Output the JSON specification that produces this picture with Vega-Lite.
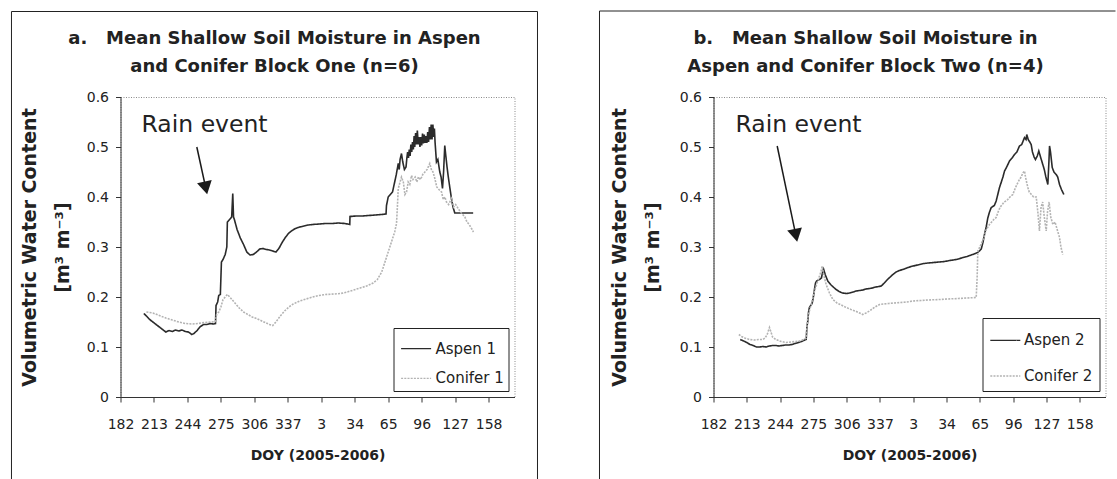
{
  "$schema": "https://vega.github.io/schema/vega-lite/v6.json",
  "padding": {"left": 9.5, "top": 9, "right": 0, "bottom": 0},
  "background": "white",
  "spacing": 59,
  "config": {
    "font": "DejaVu Sans",
    "view": {"stroke": "#8a8a8a", "strokeDash": [1, 1.5], "strokeWidth": 1},
    "axis": {"grid": false, "domainColor": "#333333", "tickColor": "#333333", "labelColor": "#222222", "titleColor": "#222222", "labelFont": "DejaVu Sans", "titleFont": "DejaVu Sans", "labelFontSize": 14, "tickSize": 5, "labelOverlap": false},
    "title": {"font": "DejaVu Sans", "fontSize": 18, "fontWeight": "bold", "color": "#222222", "lineHeight": 28, "anchor": "middle"}
  },
  "resolve": {"scale": {"x": "independent", "y": "independent", "color": "independent", "strokeDash": "independent"}, "legend": {"color": "independent", "strokeDash": "independent"}},
  "datasets": {
    "a": [
      {"series": "Aspen 1", "day": 203.6, "vwc": 0.167},
      {"series": "Aspen 1", "day": 206, "vwc": 0.162},
      {"series": "Aspen 1", "day": 209, "vwc": 0.155},
      {"series": "Aspen 1", "day": 212, "vwc": 0.150},
      {"series": "Aspen 1", "day": 215, "vwc": 0.145},
      {"series": "Aspen 1", "day": 218, "vwc": 0.140},
      {"series": "Aspen 1", "day": 221, "vwc": 0.135},
      {"series": "Aspen 1", "day": 224, "vwc": 0.130},
      {"series": "Aspen 1", "day": 227, "vwc": 0.133},
      {"series": "Aspen 1", "day": 230, "vwc": 0.131},
      {"series": "Aspen 1", "day": 233, "vwc": 0.134},
      {"series": "Aspen 1", "day": 236, "vwc": 0.132},
      {"series": "Aspen 1", "day": 239, "vwc": 0.134},
      {"series": "Aspen 1", "day": 242, "vwc": 0.131},
      {"series": "Aspen 1", "day": 245, "vwc": 0.130},
      {"series": "Aspen 1", "day": 248, "vwc": 0.125},
      {"series": "Aspen 1", "day": 250, "vwc": 0.127},
      {"series": "Aspen 1", "day": 253, "vwc": 0.133},
      {"series": "Aspen 1", "day": 256, "vwc": 0.141},
      {"series": "Aspen 1", "day": 259, "vwc": 0.145},
      {"series": "Aspen 1", "day": 262, "vwc": 0.145},
      {"series": "Aspen 1", "day": 265, "vwc": 0.147},
      {"series": "Aspen 1", "day": 268, "vwc": 0.146},
      {"series": "Aspen 1", "day": 270, "vwc": 0.147},
      {"series": "Aspen 1", "day": 270.5, "vwc": 0.183},
      {"series": "Aspen 1", "day": 272, "vwc": 0.190},
      {"series": "Aspen 1", "day": 273, "vwc": 0.203},
      {"series": "Aspen 1", "day": 274.5, "vwc": 0.205},
      {"series": "Aspen 1", "day": 275.5, "vwc": 0.270},
      {"series": "Aspen 1", "day": 277, "vwc": 0.275},
      {"series": "Aspen 1", "day": 279, "vwc": 0.285},
      {"series": "Aspen 1", "day": 280.5, "vwc": 0.300},
      {"series": "Aspen 1", "day": 281, "vwc": 0.350},
      {"series": "Aspen 1", "day": 283, "vwc": 0.355},
      {"series": "Aspen 1", "day": 285, "vwc": 0.360},
      {"series": "Aspen 1", "day": 286, "vwc": 0.407},
      {"series": "Aspen 1", "day": 286.7, "vwc": 0.360},
      {"series": "Aspen 1", "day": 287.5, "vwc": 0.355},
      {"series": "Aspen 1", "day": 290, "vwc": 0.335},
      {"series": "Aspen 1", "day": 293, "vwc": 0.318},
      {"series": "Aspen 1", "day": 296, "vwc": 0.305},
      {"series": "Aspen 1", "day": 299, "vwc": 0.290},
      {"series": "Aspen 1", "day": 302, "vwc": 0.284},
      {"series": "Aspen 1", "day": 305, "vwc": 0.285},
      {"series": "Aspen 1", "day": 308, "vwc": 0.290},
      {"series": "Aspen 1", "day": 311, "vwc": 0.296},
      {"series": "Aspen 1", "day": 314, "vwc": 0.297},
      {"series": "Aspen 1", "day": 317, "vwc": 0.295},
      {"series": "Aspen 1", "day": 320, "vwc": 0.294},
      {"series": "Aspen 1", "day": 323, "vwc": 0.292},
      {"series": "Aspen 1", "day": 326, "vwc": 0.290},
      {"series": "Aspen 1", "day": 329, "vwc": 0.298},
      {"series": "Aspen 1", "day": 332, "vwc": 0.310},
      {"series": "Aspen 1", "day": 335, "vwc": 0.320},
      {"series": "Aspen 1", "day": 338, "vwc": 0.328},
      {"series": "Aspen 1", "day": 341, "vwc": 0.333},
      {"series": "Aspen 1", "day": 344, "vwc": 0.337},
      {"series": "Aspen 1", "day": 348, "vwc": 0.340},
      {"series": "Aspen 1", "day": 352, "vwc": 0.342},
      {"series": "Aspen 1", "day": 356, "vwc": 0.344},
      {"series": "Aspen 1", "day": 360, "vwc": 0.345},
      {"series": "Aspen 1", "day": 366, "vwc": 0.346},
      {"series": "Aspen 1", "day": 372, "vwc": 0.347},
      {"series": "Aspen 1", "day": 378, "vwc": 0.347},
      {"series": "Aspen 1", "day": 384, "vwc": 0.348},
      {"series": "Aspen 1", "day": 390, "vwc": 0.347},
      {"series": "Aspen 1", "day": 394.4, "vwc": 0.345},
      {"series": "Aspen 1", "day": 394.6, "vwc": 0.361},
      {"series": "Aspen 1", "day": 400, "vwc": 0.362},
      {"series": "Aspen 1", "day": 406, "vwc": 0.362},
      {"series": "Aspen 1", "day": 412, "vwc": 0.363},
      {"series": "Aspen 1", "day": 418, "vwc": 0.364},
      {"series": "Aspen 1", "day": 424, "vwc": 0.365},
      {"series": "Aspen 1", "day": 428, "vwc": 0.366},
      {"series": "Aspen 1", "day": 428.4, "vwc": 0.383},
      {"series": "Aspen 1", "day": 430, "vwc": 0.400},
      {"series": "Aspen 1", "day": 432, "vwc": 0.405},
      {"series": "Aspen 1", "day": 434, "vwc": 0.410},
      {"series": "Aspen 1", "day": 436, "vwc": 0.430},
      {"series": "Aspen 1", "day": 437.5, "vwc": 0.445},
      {"series": "Aspen 1", "day": 439.3, "vwc": 0.467},
      {"series": "Aspen 1", "day": 440.2, "vwc": 0.455},
      {"series": "Aspen 1", "day": 441, "vwc": 0.475},
      {"series": "Aspen 1", "day": 442.3, "vwc": 0.487},
      {"series": "Aspen 1", "day": 443.5, "vwc": 0.470},
      {"series": "Aspen 1", "day": 445, "vwc": 0.455},
      {"series": "Aspen 1", "day": 446.5, "vwc": 0.460},
      {"series": "Aspen 1", "day": 447.3, "vwc": 0.478},
      {"series": "Aspen 1", "day": 448, "vwc": 0.490},
      {"series": "Aspen 1", "day": 448.8, "vwc": 0.478},
      {"series": "Aspen 1", "day": 449.5, "vwc": 0.495},
      {"series": "Aspen 1", "day": 450.3, "vwc": 0.482},
      {"series": "Aspen 1", "day": 451, "vwc": 0.505},
      {"series": "Aspen 1", "day": 451.8, "vwc": 0.49},
      {"series": "Aspen 1", "day": 452.5, "vwc": 0.51},
      {"series": "Aspen 1", "day": 453.3, "vwc": 0.495},
      {"series": "Aspen 1", "day": 454, "vwc": 0.522},
      {"series": "Aspen 1", "day": 454.6, "vwc": 0.50},
      {"series": "Aspen 1", "day": 455.4, "vwc": 0.528},
      {"series": "Aspen 1", "day": 456.2, "vwc": 0.505},
      {"series": "Aspen 1", "day": 457, "vwc": 0.533},
      {"series": "Aspen 1", "day": 457.8, "vwc": 0.505},
      {"series": "Aspen 1", "day": 458.6, "vwc": 0.52},
      {"series": "Aspen 1", "day": 459.4, "vwc": 0.50},
      {"series": "Aspen 1", "day": 460.2, "vwc": 0.52},
      {"series": "Aspen 1", "day": 461, "vwc": 0.503},
      {"series": "Aspen 1", "day": 461.8, "vwc": 0.527},
      {"series": "Aspen 1", "day": 462.6, "vwc": 0.507},
      {"series": "Aspen 1", "day": 463.4, "vwc": 0.525},
      {"series": "Aspen 1", "day": 464.2, "vwc": 0.508},
      {"series": "Aspen 1", "day": 465, "vwc": 0.522},
      {"series": "Aspen 1", "day": 465.8, "vwc": 0.508},
      {"series": "Aspen 1", "day": 466.6, "vwc": 0.53},
      {"series": "Aspen 1", "day": 467.4, "vwc": 0.51},
      {"series": "Aspen 1", "day": 468.2, "vwc": 0.54},
      {"series": "Aspen 1", "day": 469, "vwc": 0.515},
      {"series": "Aspen 1", "day": 469.8, "vwc": 0.545},
      {"series": "Aspen 1", "day": 470.6, "vwc": 0.515},
      {"series": "Aspen 1", "day": 471.4, "vwc": 0.545},
      {"series": "Aspen 1", "day": 472.2, "vwc": 0.52},
      {"series": "Aspen 1", "day": 472.8, "vwc": 0.537},
      {"series": "Aspen 1", "day": 473.4, "vwc": 0.51},
      {"series": "Aspen 1", "day": 474.7, "vwc": 0.470},
      {"series": "Aspen 1", "day": 476, "vwc": 0.475},
      {"series": "Aspen 1", "day": 477.8, "vwc": 0.450},
      {"series": "Aspen 1", "day": 479, "vwc": 0.440},
      {"series": "Aspen 1", "day": 480.3, "vwc": 0.417},
      {"series": "Aspen 1", "day": 481.3, "vwc": 0.450},
      {"series": "Aspen 1", "day": 482.4, "vwc": 0.503},
      {"series": "Aspen 1", "day": 483.5, "vwc": 0.480},
      {"series": "Aspen 1", "day": 484.5, "vwc": 0.460},
      {"series": "Aspen 1", "day": 485.5, "vwc": 0.443},
      {"series": "Aspen 1", "day": 487, "vwc": 0.420},
      {"series": "Aspen 1", "day": 488.6, "vwc": 0.397},
      {"series": "Aspen 1", "day": 490, "vwc": 0.380},
      {"series": "Aspen 1", "day": 491.7, "vwc": 0.368},
      {"series": "Aspen 1", "day": 495, "vwc": 0.368},
      {"series": "Aspen 1", "day": 500, "vwc": 0.368},
      {"series": "Aspen 1", "day": 505, "vwc": 0.368},
      {"series": "Aspen 1", "day": 508.7, "vwc": 0.368},
      {"series": "Conifer 1", "day": 206, "vwc": 0.170},
      {"series": "Conifer 1", "day": 212, "vwc": 0.168},
      {"series": "Conifer 1", "day": 218, "vwc": 0.163},
      {"series": "Conifer 1", "day": 224, "vwc": 0.158},
      {"series": "Conifer 1", "day": 230, "vwc": 0.154},
      {"series": "Conifer 1", "day": 236, "vwc": 0.150},
      {"series": "Conifer 1", "day": 242, "vwc": 0.147},
      {"series": "Conifer 1", "day": 248, "vwc": 0.146},
      {"series": "Conifer 1", "day": 254, "vwc": 0.147},
      {"series": "Conifer 1", "day": 260, "vwc": 0.149},
      {"series": "Conifer 1", "day": 266, "vwc": 0.150},
      {"series": "Conifer 1", "day": 270, "vwc": 0.151},
      {"series": "Conifer 1", "day": 271, "vwc": 0.165},
      {"series": "Conifer 1", "day": 273, "vwc": 0.170},
      {"series": "Conifer 1", "day": 275, "vwc": 0.180},
      {"series": "Conifer 1", "day": 277, "vwc": 0.195},
      {"series": "Conifer 1", "day": 279, "vwc": 0.200},
      {"series": "Conifer 1", "day": 281, "vwc": 0.205},
      {"series": "Conifer 1", "day": 284, "vwc": 0.198},
      {"series": "Conifer 1", "day": 288, "vwc": 0.188},
      {"series": "Conifer 1", "day": 292, "vwc": 0.178},
      {"series": "Conifer 1", "day": 296, "vwc": 0.170},
      {"series": "Conifer 1", "day": 300, "vwc": 0.165},
      {"series": "Conifer 1", "day": 304, "vwc": 0.160},
      {"series": "Conifer 1", "day": 308, "vwc": 0.157},
      {"series": "Conifer 1", "day": 312, "vwc": 0.153},
      {"series": "Conifer 1", "day": 316, "vwc": 0.149},
      {"series": "Conifer 1", "day": 320, "vwc": 0.145},
      {"series": "Conifer 1", "day": 323, "vwc": 0.143},
      {"series": "Conifer 1", "day": 326, "vwc": 0.150},
      {"series": "Conifer 1", "day": 330, "vwc": 0.162},
      {"series": "Conifer 1", "day": 334, "vwc": 0.172},
      {"series": "Conifer 1", "day": 338, "vwc": 0.180},
      {"series": "Conifer 1", "day": 342, "vwc": 0.186},
      {"series": "Conifer 1", "day": 348, "vwc": 0.192},
      {"series": "Conifer 1", "day": 354, "vwc": 0.196},
      {"series": "Conifer 1", "day": 360, "vwc": 0.200},
      {"series": "Conifer 1", "day": 366, "vwc": 0.203},
      {"series": "Conifer 1", "day": 372, "vwc": 0.205},
      {"series": "Conifer 1", "day": 380, "vwc": 0.206},
      {"series": "Conifer 1", "day": 386, "vwc": 0.207},
      {"series": "Conifer 1", "day": 392, "vwc": 0.210},
      {"series": "Conifer 1", "day": 398, "vwc": 0.214},
      {"series": "Conifer 1", "day": 404, "vwc": 0.218},
      {"series": "Conifer 1", "day": 410, "vwc": 0.222},
      {"series": "Conifer 1", "day": 416, "vwc": 0.228},
      {"series": "Conifer 1", "day": 420, "vwc": 0.235},
      {"series": "Conifer 1", "day": 424, "vwc": 0.250},
      {"series": "Conifer 1", "day": 427, "vwc": 0.270},
      {"series": "Conifer 1", "day": 430, "vwc": 0.290},
      {"series": "Conifer 1", "day": 433, "vwc": 0.310},
      {"series": "Conifer 1", "day": 436, "vwc": 0.330},
      {"series": "Conifer 1", "day": 437.7, "vwc": 0.347},
      {"series": "Conifer 1", "day": 438.5, "vwc": 0.380},
      {"series": "Conifer 1", "day": 439.3, "vwc": 0.417},
      {"series": "Conifer 1", "day": 441, "vwc": 0.430},
      {"series": "Conifer 1", "day": 442.3, "vwc": 0.440},
      {"series": "Conifer 1", "day": 444, "vwc": 0.430},
      {"series": "Conifer 1", "day": 445.5, "vwc": 0.405},
      {"series": "Conifer 1", "day": 447, "vwc": 0.410},
      {"series": "Conifer 1", "day": 448.5, "vwc": 0.430},
      {"series": "Conifer 1", "day": 450, "vwc": 0.425},
      {"series": "Conifer 1", "day": 451.6, "vwc": 0.443},
      {"series": "Conifer 1", "day": 453, "vwc": 0.435},
      {"series": "Conifer 1", "day": 455, "vwc": 0.440},
      {"series": "Conifer 1", "day": 456.5, "vwc": 0.430},
      {"series": "Conifer 1", "day": 458, "vwc": 0.440},
      {"series": "Conifer 1", "day": 460, "vwc": 0.435},
      {"series": "Conifer 1", "day": 462, "vwc": 0.445},
      {"series": "Conifer 1", "day": 464, "vwc": 0.450},
      {"series": "Conifer 1", "day": 466, "vwc": 0.455},
      {"series": "Conifer 1", "day": 468.5, "vwc": 0.467},
      {"series": "Conifer 1", "day": 470, "vwc": 0.455},
      {"series": "Conifer 1", "day": 471.5, "vwc": 0.450},
      {"series": "Conifer 1", "day": 473.2, "vwc": 0.437},
      {"series": "Conifer 1", "day": 475, "vwc": 0.420},
      {"series": "Conifer 1", "day": 477, "vwc": 0.415},
      {"series": "Conifer 1", "day": 479.4, "vwc": 0.410},
      {"series": "Conifer 1", "day": 481, "vwc": 0.395},
      {"series": "Conifer 1", "day": 482.5, "vwc": 0.400},
      {"series": "Conifer 1", "day": 484, "vwc": 0.390},
      {"series": "Conifer 1", "day": 486, "vwc": 0.385},
      {"series": "Conifer 1", "day": 488.6, "vwc": 0.397},
      {"series": "Conifer 1", "day": 490.5, "vwc": 0.380},
      {"series": "Conifer 1", "day": 492.5, "vwc": 0.385},
      {"series": "Conifer 1", "day": 494.8, "vwc": 0.377},
      {"series": "Conifer 1", "day": 497, "vwc": 0.370},
      {"series": "Conifer 1", "day": 499, "vwc": 0.365},
      {"series": "Conifer 1", "day": 501, "vwc": 0.360},
      {"series": "Conifer 1", "day": 503, "vwc": 0.350},
      {"series": "Conifer 1", "day": 505, "vwc": 0.345},
      {"series": "Conifer 1", "day": 507.2, "vwc": 0.337},
      {"series": "Conifer 1", "day": 509, "vwc": 0.330}
    ],
    "b": [
      {"series": "Aspen 2", "day": 206.9, "vwc": 0.115},
      {"series": "Aspen 2", "day": 210, "vwc": 0.112},
      {"series": "Aspen 2", "day": 213, "vwc": 0.109},
      {"series": "Aspen 2", "day": 216, "vwc": 0.105},
      {"series": "Aspen 2", "day": 219, "vwc": 0.103},
      {"series": "Aspen 2", "day": 222, "vwc": 0.100},
      {"series": "Aspen 2", "day": 225, "vwc": 0.100},
      {"series": "Aspen 2", "day": 228, "vwc": 0.101},
      {"series": "Aspen 2", "day": 231, "vwc": 0.100},
      {"series": "Aspen 2", "day": 234, "vwc": 0.102},
      {"series": "Aspen 2", "day": 237, "vwc": 0.103},
      {"series": "Aspen 2", "day": 240, "vwc": 0.103},
      {"series": "Aspen 2", "day": 243, "vwc": 0.102},
      {"series": "Aspen 2", "day": 246, "vwc": 0.103},
      {"series": "Aspen 2", "day": 249, "vwc": 0.104},
      {"series": "Aspen 2", "day": 252, "vwc": 0.104},
      {"series": "Aspen 2", "day": 255, "vwc": 0.105},
      {"series": "Aspen 2", "day": 258, "vwc": 0.107},
      {"series": "Aspen 2", "day": 261, "vwc": 0.109},
      {"series": "Aspen 2", "day": 264, "vwc": 0.111},
      {"series": "Aspen 2", "day": 267, "vwc": 0.114},
      {"series": "Aspen 2", "day": 268.3, "vwc": 0.115},
      {"series": "Aspen 2", "day": 269, "vwc": 0.140},
      {"series": "Aspen 2", "day": 269.8, "vwc": 0.152},
      {"series": "Aspen 2", "day": 270.5, "vwc": 0.170},
      {"series": "Aspen 2", "day": 271.3, "vwc": 0.179},
      {"series": "Aspen 2", "day": 272.5, "vwc": 0.183},
      {"series": "Aspen 2", "day": 273.8, "vwc": 0.187},
      {"series": "Aspen 2", "day": 275, "vwc": 0.200},
      {"series": "Aspen 2", "day": 276, "vwc": 0.215},
      {"series": "Aspen 2", "day": 277, "vwc": 0.228},
      {"series": "Aspen 2", "day": 278, "vwc": 0.232},
      {"series": "Aspen 2", "day": 280.7, "vwc": 0.235},
      {"series": "Aspen 2", "day": 282.5, "vwc": 0.238},
      {"series": "Aspen 2", "day": 283.8, "vwc": 0.252},
      {"series": "Aspen 2", "day": 284.5, "vwc": 0.256},
      {"series": "Aspen 2", "day": 286, "vwc": 0.245},
      {"series": "Aspen 2", "day": 288.4, "vwc": 0.232},
      {"series": "Aspen 2", "day": 291, "vwc": 0.225},
      {"series": "Aspen 2", "day": 293.5, "vwc": 0.220},
      {"series": "Aspen 2", "day": 296.2, "vwc": 0.215},
      {"series": "Aspen 2", "day": 299, "vwc": 0.211},
      {"series": "Aspen 2", "day": 302, "vwc": 0.208},
      {"series": "Aspen 2", "day": 305.6, "vwc": 0.207},
      {"series": "Aspen 2", "day": 309, "vwc": 0.208},
      {"series": "Aspen 2", "day": 312, "vwc": 0.210},
      {"series": "Aspen 2", "day": 315, "vwc": 0.212},
      {"series": "Aspen 2", "day": 318, "vwc": 0.213},
      {"series": "Aspen 2", "day": 321, "vwc": 0.214},
      {"series": "Aspen 2", "day": 324, "vwc": 0.216},
      {"series": "Aspen 2", "day": 327.3, "vwc": 0.217},
      {"series": "Aspen 2", "day": 330, "vwc": 0.218},
      {"series": "Aspen 2", "day": 333, "vwc": 0.220},
      {"series": "Aspen 2", "day": 336, "vwc": 0.221},
      {"series": "Aspen 2", "day": 338.2, "vwc": 0.222},
      {"series": "Aspen 2", "day": 341, "vwc": 0.228},
      {"series": "Aspen 2", "day": 344, "vwc": 0.235},
      {"series": "Aspen 2", "day": 347, "vwc": 0.241},
      {"series": "Aspen 2", "day": 349, "vwc": 0.245},
      {"series": "Aspen 2", "day": 352, "vwc": 0.250},
      {"series": "Aspen 2", "day": 355, "vwc": 0.253},
      {"series": "Aspen 2", "day": 358.3, "vwc": 0.255},
      {"series": "Aspen 2", "day": 362, "vwc": 0.258},
      {"series": "Aspen 2", "day": 366, "vwc": 0.261},
      {"series": "Aspen 2", "day": 370, "vwc": 0.263},
      {"series": "Aspen 2", "day": 373.8, "vwc": 0.265},
      {"series": "Aspen 2", "day": 378, "vwc": 0.267},
      {"series": "Aspen 2", "day": 382, "vwc": 0.268},
      {"series": "Aspen 2", "day": 387, "vwc": 0.269},
      {"series": "Aspen 2", "day": 392.4, "vwc": 0.270},
      {"series": "Aspen 2", "day": 397, "vwc": 0.271},
      {"series": "Aspen 2", "day": 402, "vwc": 0.273},
      {"series": "Aspen 2", "day": 408, "vwc": 0.275},
      {"series": "Aspen 2", "day": 413, "vwc": 0.278},
      {"series": "Aspen 2", "day": 418, "vwc": 0.281},
      {"series": "Aspen 2", "day": 423.4, "vwc": 0.285},
      {"series": "Aspen 2", "day": 427, "vwc": 0.288},
      {"series": "Aspen 2", "day": 429.7, "vwc": 0.292},
      {"series": "Aspen 2", "day": 431.3, "vwc": 0.296},
      {"series": "Aspen 2", "day": 433, "vwc": 0.310},
      {"series": "Aspen 2", "day": 434.3, "vwc": 0.325},
      {"series": "Aspen 2", "day": 435.9, "vwc": 0.340},
      {"series": "Aspen 2", "day": 437.4, "vwc": 0.358},
      {"series": "Aspen 2", "day": 439, "vwc": 0.370},
      {"series": "Aspen 2", "day": 440.6, "vwc": 0.379},
      {"series": "Aspen 2", "day": 442, "vwc": 0.381},
      {"series": "Aspen 2", "day": 443.5, "vwc": 0.383},
      {"series": "Aspen 2", "day": 445.2, "vwc": 0.392},
      {"series": "Aspen 2", "day": 446.7, "vwc": 0.405},
      {"series": "Aspen 2", "day": 448.3, "vwc": 0.419},
      {"series": "Aspen 2", "day": 450, "vwc": 0.430},
      {"series": "Aspen 2", "day": 451.5, "vwc": 0.440},
      {"series": "Aspen 2", "day": 453, "vwc": 0.452},
      {"series": "Aspen 2", "day": 455, "vwc": 0.460},
      {"series": "Aspen 2", "day": 457.6, "vwc": 0.472},
      {"series": "Aspen 2", "day": 460, "vwc": 0.478},
      {"series": "Aspen 2", "day": 462.3, "vwc": 0.485},
      {"series": "Aspen 2", "day": 464.5, "vwc": 0.490},
      {"series": "Aspen 2", "day": 466.9, "vwc": 0.502},
      {"series": "Aspen 2", "day": 469, "vwc": 0.505},
      {"series": "Aspen 2", "day": 471.6, "vwc": 0.519},
      {"series": "Aspen 2", "day": 473, "vwc": 0.515},
      {"series": "Aspen 2", "day": 473.7, "vwc": 0.525},
      {"series": "Aspen 2", "day": 475, "vwc": 0.515},
      {"series": "Aspen 2", "day": 476.5, "vwc": 0.510},
      {"series": "Aspen 2", "day": 477.8, "vwc": 0.505},
      {"series": "Aspen 2", "day": 479, "vwc": 0.490},
      {"series": "Aspen 2", "day": 480.5, "vwc": 0.480},
      {"series": "Aspen 2", "day": 481.8, "vwc": 0.475},
      {"series": "Aspen 2", "day": 483.5, "vwc": 0.482},
      {"series": "Aspen 2", "day": 484.9, "vwc": 0.492},
      {"series": "Aspen 2", "day": 486.5, "vwc": 0.480},
      {"series": "Aspen 2", "day": 488.6, "vwc": 0.465},
      {"series": "Aspen 2", "day": 490, "vwc": 0.455},
      {"series": "Aspen 2", "day": 491.5, "vwc": 0.440},
      {"series": "Aspen 2", "day": 493.3, "vwc": 0.425},
      {"series": "Aspen 2", "day": 494.3, "vwc": 0.470},
      {"series": "Aspen 2", "day": 494.9, "vwc": 0.502},
      {"series": "Aspen 2", "day": 495.8, "vwc": 0.490},
      {"series": "Aspen 2", "day": 497.4, "vwc": 0.459},
      {"series": "Aspen 2", "day": 499, "vwc": 0.450},
      {"series": "Aspen 2", "day": 501.1, "vwc": 0.445},
      {"series": "Aspen 2", "day": 502.5, "vwc": 0.440},
      {"series": "Aspen 2", "day": 504.2, "vwc": 0.425},
      {"series": "Aspen 2", "day": 506, "vwc": 0.415},
      {"series": "Aspen 2", "day": 508.2, "vwc": 0.405},
      {"series": "Conifer 2", "day": 205.6, "vwc": 0.125},
      {"series": "Conifer 2", "day": 208, "vwc": 0.121},
      {"series": "Conifer 2", "day": 211, "vwc": 0.118},
      {"series": "Conifer 2", "day": 215.5, "vwc": 0.115},
      {"series": "Conifer 2", "day": 220, "vwc": 0.114},
      {"series": "Conifer 2", "day": 224, "vwc": 0.115},
      {"series": "Conifer 2", "day": 227.9, "vwc": 0.115},
      {"series": "Conifer 2", "day": 230, "vwc": 0.118},
      {"series": "Conifer 2", "day": 232, "vwc": 0.125},
      {"series": "Conifer 2", "day": 234.1, "vwc": 0.139},
      {"series": "Conifer 2", "day": 235.5, "vwc": 0.130},
      {"series": "Conifer 2", "day": 237, "vwc": 0.120},
      {"series": "Conifer 2", "day": 240, "vwc": 0.115},
      {"series": "Conifer 2", "day": 245, "vwc": 0.111},
      {"series": "Conifer 2", "day": 249.7, "vwc": 0.109},
      {"series": "Conifer 2", "day": 254, "vwc": 0.110},
      {"series": "Conifer 2", "day": 258, "vwc": 0.111},
      {"series": "Conifer 2", "day": 262.1, "vwc": 0.112},
      {"series": "Conifer 2", "day": 266, "vwc": 0.115},
      {"series": "Conifer 2", "day": 268.3, "vwc": 0.118},
      {"series": "Conifer 2", "day": 269, "vwc": 0.140},
      {"series": "Conifer 2", "day": 269.8, "vwc": 0.159},
      {"series": "Conifer 2", "day": 271, "vwc": 0.170},
      {"series": "Conifer 2", "day": 273, "vwc": 0.185},
      {"series": "Conifer 2", "day": 274.5, "vwc": 0.198},
      {"series": "Conifer 2", "day": 276, "vwc": 0.212},
      {"series": "Conifer 2", "day": 278, "vwc": 0.225},
      {"series": "Conifer 2", "day": 280.7, "vwc": 0.242},
      {"series": "Conifer 2", "day": 282, "vwc": 0.250},
      {"series": "Conifer 2", "day": 283.2, "vwc": 0.262},
      {"series": "Conifer 2", "day": 284.5, "vwc": 0.245},
      {"series": "Conifer 2", "day": 286.9, "vwc": 0.225},
      {"series": "Conifer 2", "day": 290, "vwc": 0.208},
      {"series": "Conifer 2", "day": 293.1, "vwc": 0.195},
      {"series": "Conifer 2", "day": 297, "vwc": 0.188},
      {"series": "Conifer 2", "day": 301, "vwc": 0.184},
      {"series": "Conifer 2", "day": 305.6, "vwc": 0.179},
      {"series": "Conifer 2", "day": 310, "vwc": 0.175},
      {"series": "Conifer 2", "day": 315, "vwc": 0.171},
      {"series": "Conifer 2", "day": 318, "vwc": 0.168},
      {"series": "Conifer 2", "day": 321, "vwc": 0.165},
      {"series": "Conifer 2", "day": 324, "vwc": 0.168},
      {"series": "Conifer 2", "day": 327.3, "vwc": 0.172},
      {"series": "Conifer 2", "day": 331, "vwc": 0.178},
      {"series": "Conifer 2", "day": 334, "vwc": 0.182},
      {"series": "Conifer 2", "day": 336.6, "vwc": 0.185},
      {"series": "Conifer 2", "day": 340, "vwc": 0.186},
      {"series": "Conifer 2", "day": 345, "vwc": 0.187},
      {"series": "Conifer 2", "day": 350, "vwc": 0.188},
      {"series": "Conifer 2", "day": 356, "vwc": 0.189},
      {"series": "Conifer 2", "day": 362, "vwc": 0.190},
      {"series": "Conifer 2", "day": 367.6, "vwc": 0.192},
      {"series": "Conifer 2", "day": 375, "vwc": 0.193},
      {"series": "Conifer 2", "day": 382, "vwc": 0.194},
      {"series": "Conifer 2", "day": 392.4, "vwc": 0.195},
      {"series": "Conifer 2", "day": 400, "vwc": 0.196},
      {"series": "Conifer 2", "day": 410, "vwc": 0.197},
      {"series": "Conifer 2", "day": 418, "vwc": 0.198},
      {"series": "Conifer 2", "day": 426.6, "vwc": 0.199},
      {"series": "Conifer 2", "day": 427.5, "vwc": 0.240},
      {"series": "Conifer 2", "day": 428.1, "vwc": 0.292},
      {"series": "Conifer 2", "day": 430, "vwc": 0.300},
      {"series": "Conifer 2", "day": 432, "vwc": 0.310},
      {"series": "Conifer 2", "day": 434, "vwc": 0.320},
      {"series": "Conifer 2", "day": 436, "vwc": 0.335},
      {"series": "Conifer 2", "day": 439, "vwc": 0.345},
      {"series": "Conifer 2", "day": 441, "vwc": 0.350},
      {"series": "Conifer 2", "day": 443, "vwc": 0.355},
      {"series": "Conifer 2", "day": 445.2, "vwc": 0.359},
      {"series": "Conifer 2", "day": 447, "vwc": 0.370},
      {"series": "Conifer 2", "day": 449, "vwc": 0.380},
      {"series": "Conifer 2", "day": 451, "vwc": 0.385},
      {"series": "Conifer 2", "day": 452.5, "vwc": 0.390},
      {"series": "Conifer 2", "day": 454.5, "vwc": 0.392},
      {"series": "Conifer 2", "day": 456, "vwc": 0.395},
      {"series": "Conifer 2", "day": 458, "vwc": 0.400},
      {"series": "Conifer 2", "day": 460.7, "vwc": 0.405},
      {"series": "Conifer 2", "day": 462.5, "vwc": 0.415},
      {"series": "Conifer 2", "day": 464.5, "vwc": 0.425},
      {"series": "Conifer 2", "day": 466.9, "vwc": 0.435},
      {"series": "Conifer 2", "day": 468.5, "vwc": 0.440},
      {"series": "Conifer 2", "day": 470, "vwc": 0.448},
      {"series": "Conifer 2", "day": 471.6, "vwc": 0.452},
      {"series": "Conifer 2", "day": 472.5, "vwc": 0.440},
      {"series": "Conifer 2", "day": 473.5, "vwc": 0.430},
      {"series": "Conifer 2", "day": 474.7, "vwc": 0.419},
      {"series": "Conifer 2", "day": 476, "vwc": 0.410},
      {"series": "Conifer 2", "day": 478, "vwc": 0.405},
      {"series": "Conifer 2", "day": 480, "vwc": 0.400},
      {"series": "Conifer 2", "day": 482.5, "vwc": 0.400},
      {"series": "Conifer 2", "day": 484, "vwc": 0.370},
      {"series": "Conifer 2", "day": 485.5, "vwc": 0.332},
      {"series": "Conifer 2", "day": 487, "vwc": 0.380},
      {"series": "Conifer 2", "day": 488.5, "vwc": 0.390},
      {"series": "Conifer 2", "day": 490, "vwc": 0.360},
      {"series": "Conifer 2", "day": 491.8, "vwc": 0.332},
      {"series": "Conifer 2", "day": 493, "vwc": 0.370},
      {"series": "Conifer 2", "day": 494.5, "vwc": 0.390},
      {"series": "Conifer 2", "day": 496, "vwc": 0.360},
      {"series": "Conifer 2", "day": 498, "vwc": 0.345},
      {"series": "Conifer 2", "day": 500, "vwc": 0.350},
      {"series": "Conifer 2", "day": 502, "vwc": 0.335},
      {"series": "Conifer 2", "day": 504.2, "vwc": 0.319},
      {"series": "Conifer 2", "day": 505.5, "vwc": 0.300},
      {"series": "Conifer 2", "day": 507.2, "vwc": 0.285}
    ]
  },
  "hconcat": [
    {
      "width": 394,
      "height": 300,
      "title": {"text": ["a.\u00a0\u00a0\u00a0Mean Shallow Soil Moisture in Aspen", "and Conifer Block One (n=6)"], "dx": -43, "offset": -65},
      "layer": [
        {
          "data": {"name": "a"},
          "mark": {"type": "line", "strokeWidth": 1.6},
          "encoding": {
            "x": {"field": "day", "type": "quantitative", "scale": {"domain": [182, 547], "nice": false, "zero": false},
              "axis": {"values": [182, 213, 244, 275, 306, 337, 368, 399, 430, 461, 492, 523], "tickCount": 30, "labelExpr": "datum.value > 365 ? datum.value - 365 : datum.value", "title": "DOY (2005-2006)", "titleFontSize": 14, "titleFontWeight": "bold", "labelPadding": 15, "titlePadding": 17, "labelFlush": false, "labelOverlap": false}},
            "y": {"field": "vwc", "type": "quantitative", "scale": {"domain": [0, 0.6], "nice": false},
              "axis": {"values": [0, 0.1, 0.2, 0.3, 0.4, 0.5, 0.6], "tickCount": 20, "format": "~g", "title": ["Volumetric Water Content", "[m³ m⁻³]"], "titleFontSize": 19, "titleFontWeight": "bold", "titleLineHeight": 33, "titlePadding": 14, "labelPadding": 7}},
            "color": {"field": "series", "type": "nominal", "scale": {"domain": ["Aspen 1", "Conifer 1"], "range": ["#2b2b2b", "#b3b3b3"]},
              "legend": {"title": null, "orient": "bottom-right", "offset": 6.5, "padding": 4.6, "strokeColor": "#222222", "fillColor": "#ffffff", "symbolType": "stroke", "symbolSize": 900, "symbolStrokeWidth": 1.3, "symbolOffset": 2, "labelFont": "DejaVu Sans", "labelFontSize": 15, "labelColor": "#222222", "labelOffset": 3.4, "rowPadding": 5.7}},
            "strokeDash": {"field": "series", "type": "nominal", "scale": {"domain": ["Aspen 1", "Conifer 1"], "range": [[1, 0], [2, 1.2]]},
              "legend": {"title": null, "orient": "bottom-right", "offset": 6.5, "padding": 4.6, "strokeColor": "#222222", "fillColor": "#ffffff", "symbolType": "stroke", "symbolSize": 900, "symbolStrokeWidth": 1.3, "symbolOffset": 2, "labelFont": "DejaVu Sans", "labelFontSize": 15, "labelColor": "#222222", "labelOffset": 3.4, "rowPadding": 5.7}}
          }
        },
        {
          "data": {"values": [{}]},
          "mark": {"type": "rule", "color": "#1a1a1a", "strokeWidth": 1.5},
          "encoding": {"x": {"datum": 252.7}, "y": {"datum": 0.5}, "x2": {"datum": 261.0}, "y2": {"datum": 0.418}}
        },
        {
          "data": {"values": [{}]},
          "mark": {"type": "point", "shape": "triangle-down", "filled": true, "size": 225, "angle": -12.4, "color": "#1a1a1a", "opacity": 1},
          "encoding": {"x": {"datum": 261.0}, "y": {"datum": 0.418}}
        },
        {
          "data": {"values": [{}]},
          "mark": {"type": "text", "text": "Rain event", "align": "left", "baseline": "alphabetic", "font": "DejaVu Sans", "fontSize": 23.5, "color": "#222222"},
          "encoding": {"x": {"datum": 201.5}, "y": {"datum": 0.531}}
        },
        {
          "data": {"values": [{}]},
          "mark": {"type": "rule", "color": "#222222", "strokeWidth": 1},
          "encoding": {"x": {"datum": 81.0}, "y": {"datum": -0.166}, "y2": {"datum": 0.771}}
        },
        {
          "data": {"values": [{}]},
          "mark": {"type": "rule", "color": "#222222", "strokeWidth": 1},
          "encoding": {"x": {"datum": 81.0}, "x2": {"datum": 568.3}, "y": {"datum": 0.771}}
        },
        {
          "data": {"values": [{}]},
          "mark": {"type": "rule", "color": "#222222", "strokeWidth": 1},
          "encoding": {"x": {"datum": 568.3}, "y": {"datum": -0.166}, "y2": {"datum": 0.771}}
        }
      ]
    },
    {
      "width": 392,
      "height": 300,
      "title": {"text": ["b.\u00a0\u00a0\u00a0Mean Shallow Soil Moisture in", "Aspen and Conifer Block Two (n=4)"], "dx": -44, "offset": -65},
      "layer": [
        {
          "data": {"name": "b"},
          "mark": {"type": "line", "strokeWidth": 1.6},
          "encoding": {
            "x": {"field": "day", "type": "quantitative", "scale": {"domain": [182, 547], "nice": false, "zero": false},
              "axis": {"values": [182, 213, 244, 275, 306, 337, 368, 399, 430, 461, 492, 523], "tickCount": 30, "labelExpr": "datum.value > 365 ? datum.value - 365 : datum.value", "title": "DOY (2005-2006)", "titleFontSize": 14, "titleFontWeight": "bold", "labelPadding": 15, "titlePadding": 17, "labelFlush": false, "labelOverlap": false}},
            "y": {"field": "vwc", "type": "quantitative", "scale": {"domain": [0, 0.6], "nice": false},
              "axis": {"values": [0, 0.1, 0.2, 0.3, 0.4, 0.5, 0.6], "tickCount": 20, "format": "~g", "title": ["Volumetric Water Content", "[m³ m⁻³]"], "titleFontSize": 19, "titleFontWeight": "bold", "titleLineHeight": 33, "titlePadding": 17, "labelPadding": 7}},
            "color": {"field": "series", "type": "nominal", "scale": {"domain": ["Aspen 2", "Conifer 2"], "range": ["#2b2b2b", "#b3b3b3"]},
              "legend": {"title": null, "orient": "bottom-right", "offset": 6, "padding": 6.3, "strokeColor": "#222222", "fillColor": "#ffffff", "symbolType": "stroke", "symbolSize": 900, "symbolStrokeWidth": 1.3, "symbolOffset": 0.5, "labelFont": "DejaVu Sans", "labelFontSize": 15, "labelColor": "#222222", "labelOffset": 2.6, "rowPadding": 11.7}},
            "strokeDash": {"field": "series", "type": "nominal", "scale": {"domain": ["Aspen 2", "Conifer 2"], "range": [[1, 0], [2, 1.2]]},
              "legend": {"title": null, "orient": "bottom-right", "offset": 6, "padding": 6.3, "strokeColor": "#222222", "fillColor": "#ffffff", "symbolType": "stroke", "symbolSize": 900, "symbolStrokeWidth": 1.3, "symbolOffset": 0.5, "labelFont": "DejaVu Sans", "labelFontSize": 15, "labelColor": "#222222", "labelOffset": 2.6, "rowPadding": 11.7}}
          }
        },
        {
          "data": {"values": [{}]},
          "mark": {"type": "rule", "color": "#1a1a1a", "strokeWidth": 1.5},
          "encoding": {"x": {"datum": 241.3}, "y": {"datum": 0.502}, "x2": {"datum": 258.7}, "y2": {"datum": 0.3234}}
        },
        {
          "data": {"values": [{}]},
          "mark": {"type": "point", "shape": "triangle-down", "filled": true, "size": 225, "angle": -11.8, "color": "#1a1a1a", "opacity": 1},
          "encoding": {"x": {"datum": 258.7}, "y": {"datum": 0.3234}}
        },
        {
          "data": {"values": [{}]},
          "mark": {"type": "text", "text": "Rain event", "align": "left", "baseline": "alphabetic", "font": "DejaVu Sans", "fontSize": 23.5, "color": "#222222"},
          "encoding": {"x": {"datum": 202.5}, "y": {"datum": 0.531}}
        },
        {
          "data": {"values": [{}]},
          "mark": {"type": "rule", "color": "#222222", "strokeWidth": 1},
          "encoding": {"x": {"datum": 75.85}, "y": {"datum": -0.164}, "y2": {"datum": 0.772}}
        },
        {
          "data": {"values": [{}]},
          "mark": {"type": "rule", "color": "#222222", "strokeWidth": 1},
          "encoding": {"x": {"datum": 75.85}, "x2": {"datum": 556.3}, "y": {"datum": 0.772}}
        }
      ]
    }
  ]
}
